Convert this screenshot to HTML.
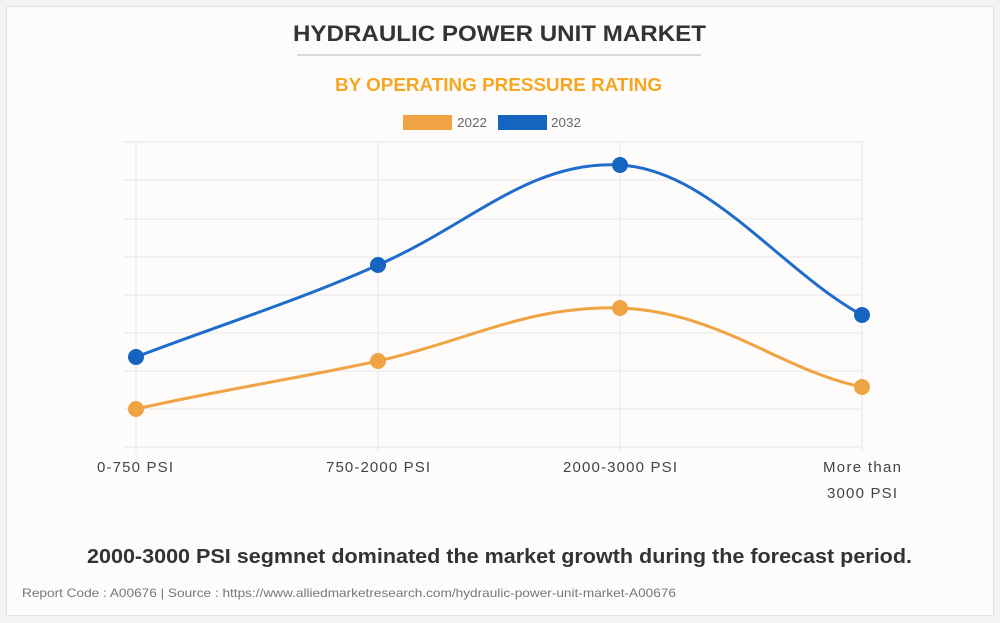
<!DOCTYPE html>
<html><head><style>
body{margin:0;background:#f3f3f3;font-family:"Liberation Sans",Arial,sans-serif;}
.card{position:absolute;left:6px;top:6px;width:986px;height:608px;background:#fdfcfa;border:1px solid #e2e2e2;}
</style></head><body>
<div class="card"></div>
<svg width="1000" height="623" style="position:absolute;left:0;top:0" font-family="Liberation Sans, Arial, sans-serif">
<text x="293" y="41" font-size="22" font-weight="bold" fill="#333" textLength="413" lengthAdjust="spacingAndGlyphs">HYDRAULIC POWER UNIT MARKET</text>
<line x1="297" y1="55" x2="701" y2="55" stroke="#ccc" stroke-width="1.5"/>
<text x="335" y="91" font-size="18" font-weight="bold" fill="#f5a623" textLength="327" lengthAdjust="spacingAndGlyphs">BY OPERATING PRESSURE RATING</text>
<rect x="403" y="115" width="49" height="15" fill="#f0a342"/>
<text x="457" y="127" font-size="13" fill="#666" textLength="30" lengthAdjust="spacingAndGlyphs">2022</text>
<rect x="498" y="115" width="49" height="15" fill="#1565c0"/>
<text x="551" y="127" font-size="13" fill="#666" textLength="30" lengthAdjust="spacingAndGlyphs">2032</text>
<g stroke="#e6e6e6" stroke-width="1">
<line x1="124" y1="142" x2="863" y2="142"/><line x1="124" y1="180" x2="863" y2="180"/>
<line x1="124" y1="219" x2="863" y2="219"/><line x1="124" y1="257" x2="863" y2="257"/>
<line x1="124" y1="295" x2="863" y2="295"/><line x1="124" y1="333" x2="863" y2="333"/>
<line x1="124" y1="371" x2="863" y2="371"/><line x1="124" y1="409" x2="863" y2="409"/>
<line x1="124" y1="447" x2="863" y2="447"/>
<line x1="136" y1="142" x2="136" y2="452"/><line x1="378" y1="142" x2="378" y2="452"/>
<line x1="620" y1="142" x2="620" y2="452"/><line x1="862" y1="142" x2="862" y2="452"/>
</g>
<path d="M136,357 C220,325 300,300 378,265 C470,225 530,160 620,165 C710,170 780,270 862,315" fill="none" stroke="#1f6ccc" stroke-width="3"/>
<path d="M136,409 C220,390 300,378 378,361 C470,340 530,305 620,308 C720,312 780,370 862,387" fill="none" stroke="#f0a342" stroke-width="3"/>
<g fill="#1565c0"><circle cx="136" cy="357" r="8"/><circle cx="378" cy="265" r="8"/><circle cx="620" cy="165" r="8"/><circle cx="862" cy="315" r="8"/></g>
<g fill="#f0a342"><circle cx="136" cy="409" r="8"/><circle cx="378" cy="361" r="8"/><circle cx="620" cy="308" r="8"/><circle cx="862" cy="387" r="8"/></g>
<g font-size="15" fill="#444" lengthAdjust="spacingAndGlyphs">
<text x="97" y="472" textLength="76">0-750 PSI</text>
<text x="326" y="472" textLength="104">750-2000 PSI</text>
<text x="563" y="472" textLength="114">2000-3000 PSI</text>
<text x="823" y="472" textLength="78">More than</text>
<text x="827" y="498" textLength="70">3000 PSI</text>
</g>
<text x="87" y="563" font-size="20" font-weight="bold" fill="#333" textLength="825" lengthAdjust="spacingAndGlyphs">2000-3000 PSI segmnet dominated the market growth during the forecast period.</text>
<text x="22" y="597" font-size="12" fill="#777" textLength="654" lengthAdjust="spacingAndGlyphs">Report Code : A00676  |  Source : https://www.alliedmarketresearch.com/hydraulic-power-unit-market-A00676</text>
</svg>
</body></html>
